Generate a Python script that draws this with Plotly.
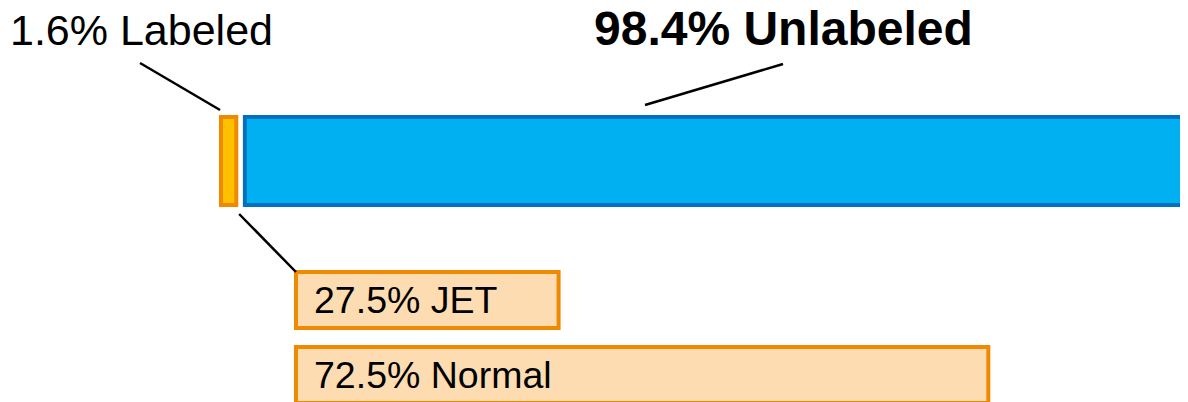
import plotly.graph_objects as go

# top split: labeled vs unlabeled share (%)
split_names = ["Labeled", "Unlabeled"]
split_values = [1.6, 98.4]

# breakdown of the labeled part (%)
sub_names = ["JET", "Normal"]
sub_values = [27.5, 72.5]

font_family = "Arial, Liberation Sans, sans-serif"
orange_line = "#EF8A00"
gap = 0.9          # visual gap between the two top bars (x units)
sub_offset = 7.85  # where the breakdown bars start (x units)

W, H = 1188, 402
PAGE_OFF = 8  # the page body margin shifts the figure by this much


def py(p):
    # page pixel row -> paper y
    return (H + PAGE_OFF - p) / H


fig = go.Figure()

# top bar: labeled part + unlabeled part
fig.add_trace(go.Bar(
    y=["all"], x=[split_values[0]], base=[0], orientation="h",
    marker=dict(color="#FFC000", line=dict(color=orange_line, width=4)),
    width=0.72, xaxis="x", yaxis="y", hoverinfo="skip",
))
fig.add_trace(go.Bar(
    y=["all"], x=[split_values[1]], base=[split_values[0] + gap], orientation="h",
    marker=dict(color="#00B0F0", line=dict(color="#0070C0", width=4)),
    width=0.72, xaxis="x", yaxis="y", hoverinfo="skip",
))

# breakdown bars
fig.add_trace(go.Bar(
    y=sub_names, x=sub_values, base=[sub_offset] * len(sub_values), orientation="h",
    marker=dict(color="#FDDCB2", line=dict(color=orange_line, width=4)),
    width=0.747, xaxis="x", yaxis="y2", hoverinfo="skip",
))

for name, val in zip(sub_names, sub_values):
    fig.add_annotation(
        x=sub_offset + 1.69, y=name, xref="x", yref="y2",
        text=f"{val}% {name}", showarrow=False, xanchor="left", yanchor="middle",
        font=dict(family=font_family, size=37.5, color="black"),
    )

# titles of the top split
fig.add_annotation(
    x=0, y=py(30), xref="paper", yref="paper",
    text=f"{split_values[0]}% {split_names[0]}", showarrow=False,
    xanchor="left", yanchor="middle",
    font=dict(family=font_family, size=43, color="black"),
)
fig.add_annotation(
    x=58.9, y=py(28.5), xref="x", yref="paper",
    text=f"<b>{split_values[1]}% {split_names[1]}</b>", showarrow=False,
    xanchor="center", yanchor="middle",
    font=dict(family=font_family, size=48, color="black"),
)

# leader lines
line_style = dict(color="black", width=2.5)
fig.add_shape(type="line", xref="x", yref="paper", x0=-8.48, y0=py(63), x1=-0.1, y1=py(110), line=line_style)
fig.add_shape(type="line", xref="x", yref="paper", x0=split_values[0] + 0.3, y0=py(214), x1=sub_offset, y1=py(272), line=line_style)
fig.add_shape(type="line", xref="x", yref="paper", x0=44.4, y0=py(105), x1=58.85, y1=py(64), line=line_style)

x0_px = 221 - PAGE_OFF  # figure pixel of x = 0
scale = 9.55            # pixels per percent

fig.update_layout(
    width=W, height=H,
    margin=dict(l=0, r=0, t=0, b=0),
    paper_bgcolor="white", plot_bgcolor="white",
    showlegend=False, barmode="overlay",
    xaxis=dict(range=[-x0_px / scale, (W - x0_px) / scale], domain=[0, 1], visible=False, fixedrange=True),
    yaxis=dict(domain=[py(222), py(100)], range=[-0.5, 0.5], visible=False, fixedrange=True),
    yaxis2=dict(domain=[0, py(262.5)], range=[(H + PAGE_OFF - 300) / 75, -0.5], visible=False, fixedrange=True,
                categoryorder="array", categoryarray=sub_names),
)

fig.write_html("out.html")
